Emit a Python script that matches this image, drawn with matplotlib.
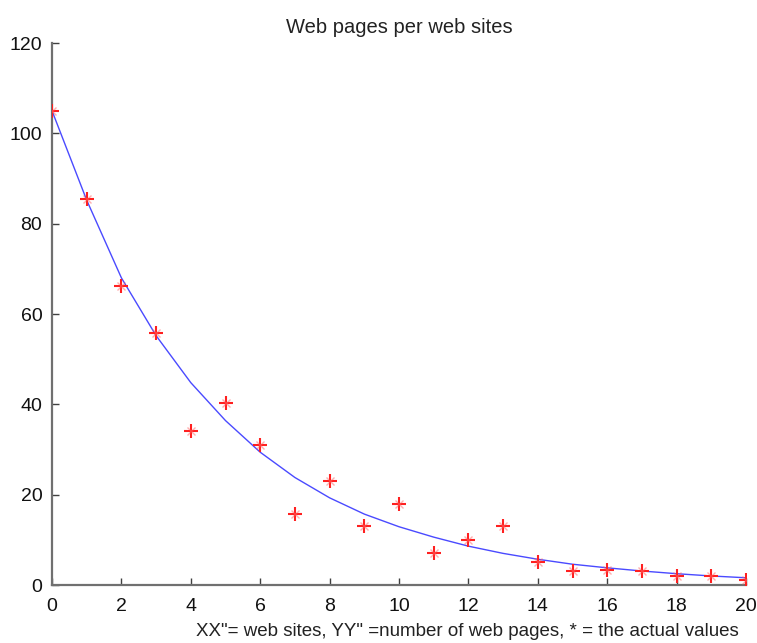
import numpy as np
import matplotlib.pyplot as plt

# =========================
# Data
# =========================
# number of web sites (x) and observed number of web pages (y)
sites = [0, 1, 2, 3, 4, 5, 6, 7, 8, 9, 10, 11, 12, 13, 14, 15, 16, 17, 18, 19, 20]
pages = [105.0, 85.5, 66.3, 55.9, 34.2, 40.4, 31.0, 15.8, 23.0, 13.1, 17.9,
         7.0, 9.9, 13.1, 5.0, 3.2, 3.3, 3.1, 2.1, 2.1, 1.1]

# fitted decay curve evaluated at the same sites
fit_pages = [105.0, 85.2, 68.0, 55.2, 44.8, 36.4, 29.4, 23.8, 19.3, 15.7, 12.9,
             10.6, 8.6, 7.0, 5.7, 4.6, 3.8, 3.1, 2.5, 2.0, 1.6]

x_ticks = [0, 2, 4, 6, 8, 10, 12, 14, 16, 18, 20]
y_ticks = [0, 20, 40, 60, 80, 100, 120]

TITLE = "Web pages per web sites"
XLABEL = "XX\"= web sites, YY\" =number of web pages, * = the actual values"

# =========================
# Plot
# =========================
plt.rcParams["font.family"] = ["Liberation Sans", "DejaVu Sans"]

fig = plt.figure(figsize=(7.57, 6.43), dpi=100)
ax = fig.add_axes([0.0687, 0.0902, 0.9168, 0.8429])

ax.plot(sites, fit_pages, color="#4a4aff", lw=1.0, zorder=2)
# MATLAB-style '*' marker: a plus with a faint diagonal cross
ax.plot(sites, pages, linestyle="none", marker="+", ms=10, mew=1.5,
        color="#ff2020", zorder=3)
ax.plot(sites, pages, linestyle="none", marker="x", ms=6, mew=1.0,
        color="#ff6060", alpha=0.5, zorder=3)

ax.set_xlim(0, 20)
ax.set_ylim(0, 120)
ax.set_xticks(x_ticks)
ax.set_yticks(y_ticks)

for side in ("top", "right"):
    ax.spines[side].set_visible(False)
for side in ("left", "bottom"):
    ax.spines[side].set_color("#707070")
    ax.spines[side].set_linewidth(1.6)

ax.tick_params(direction="in", length=5, width=1, color="#404040",
               labelsize=14, labelcolor="#111111")
ax.tick_params(axis="x", pad=9)
ax.tick_params(axis="y", pad=7)

ax.set_title(TITLE, fontsize=14.5, color="#222222", pad=7)
ax.set_xlabel(XLABEL, fontsize=13.5, color="#222222")
# label sits right of the axis centre
ax.xaxis.set_label_coords(0.599, -0.07)

fig.savefig("out.png", dpi=100)
plt.close(fig)
